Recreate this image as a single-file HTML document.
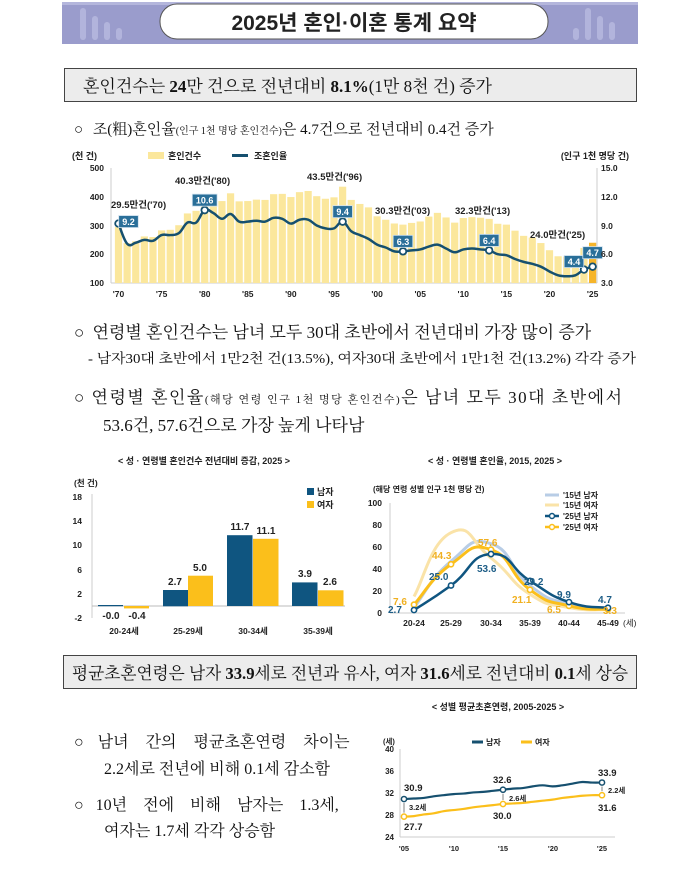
<!DOCTYPE html>
<html><head><meta charset="utf-8">
<style>
html,body{margin:0;padding:0;background:#fff;}
svg{display:block;}
.sr{font-family:"Liberation Serif","Noto Serif CJK SC","Noto Serif CJK KR",serif;fill:#111;}
.ss{font-family:"Liberation Sans","Noto Sans CJK KR",sans-serif;fill:#222;}
.b{font-weight:bold;}
</style></head>
<body>
<svg id="s" width="699" height="877" viewBox="0 0 699 877" xmlns="http://www.w3.org/2000/svg">
<rect x="62" y="2" width="576" height="42" fill="#9a9ccc"/>
<rect x="62" y="2" width="576" height="3" fill="#b4b6dc"/>
<g fill="#b9bbe0" opacity="0.8">
<rect x="80" y="8" width="6" height="32" rx="3"/><rect x="92" y="16" width="6" height="24" rx="3"/><rect x="104" y="22" width="6" height="18" rx="3"/><rect x="116" y="28" width="6" height="12" rx="3"/>
<rect x="585" y="8" width="6" height="32" rx="3"/><rect x="597" y="16" width="6" height="24" rx="3"/><rect x="609" y="22" width="6" height="18" rx="3"/><rect x="573" y="28" width="6" height="12" rx="3"/>
</g>
<rect x="160" y="4" width="388" height="35" rx="17" fill="#fff" stroke="#555" stroke-width="1"/>
<text x="354" y="30" text-anchor="middle" class="ss b" font-size="21" fill="#111">2025년 혼인·이혼 통계 요약</text>

<rect x="64.5" y="68.5" width="572" height="33" fill="#ececec" stroke="#444" stroke-width="1"/>
<text x="83" y="92" class="sr" font-size="17">혼인건수는 <tspan font-weight="bold">24</tspan>만 건으로 전년대비 <tspan font-weight="bold">8.1%</tspan>(1만 8천 건) 증가</text>
<text x="74" y="134" class="sr" font-size="15">○ <tspan dx="6">조(粗)혼인율</tspan><tspan font-size="10">(인구 1천 명당 혼인건수)</tspan>은 4.7건으로 전년대비 0.4건 증가</text>

<g id="tpc"></g>
<text x="72" y="159" class="ss b" font-size="9">(천 건)</text>
<rect x="148" y="152" width="16" height="7" fill="#fbe79c"/>
<text x="168" y="159" class="ss b" font-size="9">혼인건수</text>
<rect x="232" y="154" width="16" height="3" fill="#16506f"/>
<text x="254" y="159" class="ss b" font-size="9">조혼인율</text>
<text x="629" y="159" text-anchor="end" class="ss b" font-size="9">(인구 1천 명당 건)</text>
<g class="ss b" font-size="8.5" text-anchor="end">
<text x="104" y="171">500</text><text x="104" y="200">400</text><text x="104" y="229">300</text><text x="104" y="257">200</text><text x="104" y="286">100</text>
</g>
<g class="ss b" font-size="8.5">
<text x="601" y="171">15.0</text><text x="601" y="200">12.0</text><text x="601" y="229">9.0</text><text x="601" y="257">6.0</text><text x="601" y="286">3.0</text>
</g>
<g class="ss b" font-size="8.5" text-anchor="middle">
<text x="118.5" y="297">'70</text><text x="161.6" y="297">'75</text><text x="204.7" y="297">'80</text><text x="247.8" y="297">'85</text><text x="290.9" y="297">'90</text><text x="334" y="297">'95</text><text x="377.1" y="297">'00</text><text x="420.2" y="297">'05</text><text x="463.3" y="297">'10</text><text x="506.4" y="297">'15</text><text x="549.5" y="297">'20</text><text x="592.6" y="297">'25</text>
</g>
<g class="ss b" font-size="9.5">
<text x="111" y="208">29.5만건('70)</text>
<text x="175" y="184">40.3만건('80)</text>
<text x="307" y="180">43.5만건('96)</text>
<text x="375" y="214">30.3만건('03)</text>
<text x="455" y="214">32.3만건('13)</text>
<text x="530" y="238">24.0만건('25)</text>
</g>

<text x="74" y="338" class="sr" font-size="17">○ <tspan dx="4">연령별 혼인건수는 남녀 모두 30대 초반에서 전년대비 가장 많이 증가</tspan></text>
<text x="88" y="363" class="sr" font-size="13.5" textLength="548" lengthAdjust="spacingAndGlyphs">- 남자30대 초반에서 1만2천 건(13.5%), 여자30대 초반에서 1만1천 건(13.2%) 각각 증가</text>
<text x="74" y="403" class="sr" font-size="17" textLength="548" lengthAdjust="spacing">○ 연령별 혼인율<tspan font-size="11">(해당 연령 인구 1천 명당 혼인건수)</tspan>은 남녀 모두 30대 초반에서</text>
<text x="103" y="431" class="sr" font-size="17">53.6건, 57.6건으로 가장 높게 나타남</text>

<text x="204" y="464" text-anchor="middle" class="ss b" font-size="9">&lt; 성 · 연령별 혼인건수 전년대비 증감, 2025 &gt;</text>
<text x="74" y="486" class="ss b" font-size="8.5">(천 건)</text>
<g class="ss b" font-size="8.5" text-anchor="end">
<text x="82" y="500">18</text><text x="82" y="524">14</text><text x="82" y="548">10</text><text x="82" y="573">6</text><text x="82" y="597">2</text><text x="82" y="621">-2</text>
</g>
<line x1="92" y1="494" x2="92" y2="618" stroke="#ccc"/>
<line x1="92" y1="606" x2="345" y2="606" stroke="#bbb"/>
<rect x="98" y="605" width="25" height="1.2" fill="#0f5580"/>
<rect x="124" y="606" width="25" height="2.4" fill="#fbbf1b"/>
<rect x="163" y="590" width="25" height="16.3" fill="#0f5580"/>
<rect x="188" y="575.7" width="25" height="30.3" fill="#fbbf1b"/>
<rect x="227" y="535.2" width="25.5" height="70.8" fill="#0f5580"/>
<rect x="253" y="538.8" width="25.5" height="67.2" fill="#fbbf1b"/>
<rect x="292" y="582.4" width="25.5" height="23.6" fill="#0f5580"/>
<rect x="318" y="590.3" width="25.5" height="15.7" fill="#fbbf1b"/>
<g class="ss b" font-size="10" text-anchor="middle" fill="#111">
<text x="111" y="619">-0.0</text><text x="137" y="619">-0.4</text>
<text x="175" y="585">2.7</text><text x="200" y="571">5.0</text>
<text x="240" y="530">11.7</text><text x="266" y="534">11.1</text>
<text x="305" y="577">3.9</text><text x="330" y="585">2.6</text>
</g>
<g class="ss b" font-size="8.5" text-anchor="middle">
<text x="124" y="634">20-24세</text><text x="188" y="634">25-29세</text><text x="253" y="634">30-34세</text><text x="318" y="634">35-39세</text>
</g>
<rect x="307" y="488" width="7" height="7" fill="#0f5580"/><text x="317" y="495" class="ss b" font-size="9">남자</text>
<rect x="307" y="501" width="7" height="7" fill="#fbbf1b"/><text x="317" y="508" class="ss b" font-size="9">여자</text>

<text x="495" y="464" text-anchor="middle" class="ss b" font-size="9">&lt; 성 · 연령별 혼인율, 2015, 2025 &gt;</text>
<text x="373" y="492" class="ss b" font-size="8">(해당 연령 성별 인구 1천 명당 건)</text>
<g class="ss b" font-size="8.5" text-anchor="end">
<text x="382" y="506">100</text><text x="382" y="528">80</text><text x="382" y="550">60</text><text x="382" y="572">40</text><text x="382" y="594">20</text><text x="382" y="616">0</text>
</g>
<line x1="390" y1="503" x2="390" y2="613" stroke="#ccc"/>
<line x1="390" y1="613" x2="625" y2="613" stroke="#ccc"/>
<g id="rc"></g>
<g class="ss b" font-size="8.5" text-anchor="middle">
<text x="414" y="626">20-24</text><text x="451" y="626">25-29</text><text x="491" y="626">30-34</text><text x="530" y="626">35-39</text><text x="569" y="626">40-44</text><text x="608" y="626">45-49</text>
</g>
<text x="623" y="626" class="ss" font-size="8.5">(세)</text>
<g class="ss b" font-size="8">
<line x1="545" y1="495" x2="559" y2="495" stroke="#b8cde6" stroke-width="3"/><text x="563" y="498">'15년 남자</text>
<line x1="545" y1="505" x2="559" y2="505" stroke="#fae3a8" stroke-width="3"/><text x="563" y="508">'15년 여자</text>
<line x1="545" y1="516" x2="559" y2="516" stroke="#0f5580" stroke-width="2.5"/><circle cx="552" cy="516" r="2.5" fill="#fff" stroke="#0f5580" stroke-width="1.5"/><text x="563" y="519">'25년 남자</text>
<line x1="545" y1="527" x2="559" y2="527" stroke="#fbbf1b" stroke-width="2.5"/><circle cx="552" cy="527" r="2.5" fill="#fff" stroke="#fbbf1b" stroke-width="1.5"/><text x="563" y="530">'25년 여자</text>
</g>
<g class="ss b" font-size="10">
<text x="388" y="613" fill="#1d5d86">2.7</text>
<text x="393" y="605" fill="#f0b020">7.6</text>
<text x="432" y="559" fill="#f0b020">44.3</text>
<text x="429" y="580" fill="#1d5d86">25.0</text>
<text x="478" y="546" fill="#f0b020">57.6</text>
<text x="477" y="572" fill="#1d5d86">53.6</text>
<text x="524" y="585" fill="#1d5d86">29.2</text>
<text x="512" y="603" fill="#f0b020">21.1</text>
<text x="557" y="598" fill="#1d5d86">9.9</text>
<text x="547" y="613" fill="#f0b020">6.5</text>
<text x="598" y="603" fill="#1d5d86">4.7</text>
<text x="603" y="614" fill="#f0b020">3.3</text>
</g>

<rect x="63.5" y="655.5" width="573" height="33" fill="#ececec" stroke="#444" stroke-width="1"/>
<text x="72" y="679" class="sr" font-size="17" textLength="556" lengthAdjust="spacingAndGlyphs">평균초혼연령은 남자 <tspan font-weight="bold">33.9</tspan>세로 전년과 유사, 여자 <tspan font-weight="bold">31.6</tspan>세로 전년대비 <tspan font-weight="bold">0.1</tspan>세 상승</text>

<text x="498" y="710" text-anchor="middle" class="ss b" font-size="9">&lt; 성별 평균초혼연령, 2005-2025 &gt;</text>
<text x="74" y="747" class="sr" font-size="16">○ <tspan dx="10" word-spacing="13">남녀 간의 평균초혼연령 차이는</tspan></text>
<text x="104" y="774" class="sr" font-size="16">2.2세로 전년에 비해 0.1세 감소함</text>
<text x="74" y="810" class="sr" font-size="16">○ <tspan dx="8" word-spacing="12">10년 전에 비해 남자는 1.3세,</tspan></text>
<text x="104" y="836" class="sr" font-size="16">여자는 1.7세 각각 상승함</text>

<text x="383" y="744" class="ss b" font-size="7.5">(세)</text>
<g class="ss b" font-size="8" text-anchor="end">
<text x="394" y="752">40</text><text x="394" y="774">36</text><text x="394" y="796">32</text><text x="394" y="818">28</text><text x="394" y="840">24</text>
</g>
<line x1="400" y1="749" x2="400" y2="837" stroke="#ccc"/>
<line x1="400" y1="837" x2="615" y2="837" stroke="#ccc"/>
<line x1="472" y1="742" x2="483" y2="742" stroke="#16506f" stroke-width="3"/><text x="486" y="745" class="ss b" font-size="8">남자</text>
<line x1="521" y1="742" x2="532" y2="742" stroke="#fbbf1b" stroke-width="3"/><text x="535" y="745" class="ss b" font-size="8">여자</text>
<g id="ag"></g>
<g class="ss b" font-size="7.5" text-anchor="middle">
<text x="404" y="851">'05</text><text x="454" y="851">'10</text><text x="503" y="851">'15</text><text x="553" y="851">'20</text><text x="602" y="851">'25</text>
</g>
<g class="ss b" font-size="9.5" fill="#111">
<text x="404" y="791">30.9</text><text x="404" y="830">27.7</text>
<text x="493" y="783">32.6</text><text x="493" y="819">30.0</text>
<text x="598" y="776">33.9</text><text x="598" y="811">31.6</text>
</g>
<g class="ss b" font-size="7.5" fill="#999">
<text x="409" y="810">3.2세</text><text x="509" y="801">2.6세</text><text x="608" y="793">2.2세</text>
</g>
</svg>
<script>
(function(){
var NS="http://www.w3.org/2000/svg";
function el(p,t,a){var e=document.createElementNS(NS,t);for(var k in a)e.setAttribute(k,a[k]);p.appendChild(e);return e;}
function spline(pts,t){var d="M"+pts[0][0]+","+pts[0][1];for(var i=0;i<pts.length-1;i++){var p0=pts[i-1]||pts[i],p1=pts[i],p2=pts[i+1],p3=pts[i+2]||p2;var c1x=p1[0]+(p2[0]-p0[0])*t/3,c1y=p1[1]+(p2[1]-p0[1])*t/3,c2x=p2[0]-(p3[0]-p1[0])*t/3,c2y=p2[1]-(p3[1]-p1[1])*t/3;d+=" C"+c1x+","+c1y+" "+c2x+","+c2y+" "+p2[0]+","+p2[1];}return d;}
var tp=document.getElementById("tpc");
var cnt=[295,239,245,262,260,283,285,301,342,351,403,397,385,412,384,385,390,389,409,410,399,416,420,402,393,398,435,389,375,363,332,320,307,303,309,314,331,344,328,310,326,329,327,323,306,303,282,264,258,239,214,193,192,194,222,240];
var rate=[9.2,7.1,7.2,7.5,7.4,8.0,8.0,8.2,9.3,9.3,10.6,10.3,9.7,10.2,9.4,9.4,9.5,9.4,9.8,9.7,9.2,9.6,9.6,9.0,8.7,8.7,9.4,8.4,8.0,7.6,7.0,6.7,6.3,6.3,6.4,6.5,6.8,7.0,6.6,6.2,6.5,6.6,6.5,6.4,6.0,5.9,5.5,5.2,5.0,4.7,4.2,3.8,3.7,3.8,4.4,4.7];
function X(i){return 118.5+i*8.62;}
el(tp,"line",{x1:111,y1:168,x2:111,y2:283,stroke:"#ccc"});
el(tp,"line",{x1:597,y1:168,x2:597,y2:283,stroke:"#ccc"});
el(tp,"line",{x1:111,y1:283,x2:597,y2:283,stroke:"#ccc"});
for(var i=0;i<cnt.length;i++){var y=168+(500-cnt[i])*0.2875;el(tp,"rect",{x:X(i)-3.6,y:y,width:7.2,height:283-y,fill:i==55?"#f6b52a":"#fbe79c"});}
var rp=[];for(var i=0;i<rate.length;i++)rp.push([X(i),168+(15-rate[i])*9.58]);
el(tp,"path",{d:spline(rp,0.6),fill:"none",stroke:"#16506f","stroke-width":2.5});
var mk=[[0,"9.2",10,-2],[10,"10.6",0,-10],[26,"9.4",0,-10],[33,"6.3",0,-10],[43,"6.4",0,-10],[54,"4.4",-10,-8],[55,"4.7",0,-14]];
mk.forEach(function(m){var p=rp[m[0]];el(tp,"circle",{cx:p[0],cy:p[1],r:3.3,fill:"#fff",stroke:"#16506f","stroke-width":1.8});var bx=p[0]+m[2],by=p[1]+m[3];var w=m[1].length*5.2+4;el(tp,"rect",{x:bx-w/2,y:by-6,width:w,height:12,fill:"#2a6f99",stroke:"#cfe0ee","stroke-width":0.8});var t=el(tp,"text",{x:bx,y:by+3.5,"text-anchor":"middle","font-size":9,"font-weight":"bold","font-family":"Liberation Sans,sans-serif",fill:"#fff"});t.textContent=m[1];});
var rc=document.getElementById("rc");var cx=[414,451,491,530,569,608];function RY(v){return 613-v*1.1;}
function ser(vals,col,w,mark){var pts=vals.map(function(v,i){return[cx[i],RY(v)];});el(rc,"path",{d:spline(pts,0.8),fill:"none",stroke:col,"stroke-width":w});if(mark)pts.forEach(function(p){el(rc,"circle",{cx:p[0],cy:p[1],r:2.6,fill:"#fff",stroke:col,"stroke-width":1.6});});}
ser([5,47,63,25,8,4],"#b8cde6",3);
ser([15,73,50,17,5,3],"#fae3a8",3);
ser([7.6,44.3,57.6,21.1,6.5,3.3],"#fbbf1b",3,true);
ser([2.7,25.0,53.6,29.2,9.9,4.7],"#0f5580",2.5,true);
var ag=document.getElementById("ag");function AX(i){return 404+i*9.9;}function AY(v){return 749+(40-v)*5.5;}
var m=[30.9,31.0,31.1,31.4,31.6,31.8,31.9,32.1,32.2,32.4,32.6,32.8,32.9,33.2,33.4,33.2,33.4,33.7,34.0,33.9,33.9];
var f=[27.7,27.8,28.1,28.3,28.7,28.9,29.1,29.4,29.6,29.8,30.0,30.1,30.2,30.4,30.6,30.8,31.1,31.3,31.5,31.6,31.6];
[[0,30.9,27.7],[10,32.6,30.0],[20,33.9,31.6]].forEach(function(a){el(ag,"line",{x1:AX(a[0]),y1:AY(a[1])+4,x2:AX(a[0]),y2:AY(a[2])-4,stroke:"#aaa","stroke-width":1.5});});
el(ag,"path",{d:spline(m.map(function(v,i){return[AX(i),AY(v)]}),0.6),fill:"none",stroke:"#16506f","stroke-width":2.2});
el(ag,"path",{d:spline(f.map(function(v,i){return[AX(i),AY(v)]}),0.6),fill:"none",stroke:"#fbbf1b","stroke-width":2.2});
[0,10,20].forEach(function(i){el(ag,"circle",{cx:AX(i),cy:AY(m[i]),r:2.6,fill:"#fff",stroke:"#16506f","stroke-width":1.5});el(ag,"circle",{cx:AX(i),cy:AY(f[i]),r:2.6,fill:"#fff",stroke:"#fbbf1b","stroke-width":1.5});});
})();
</script>
</body></html>
